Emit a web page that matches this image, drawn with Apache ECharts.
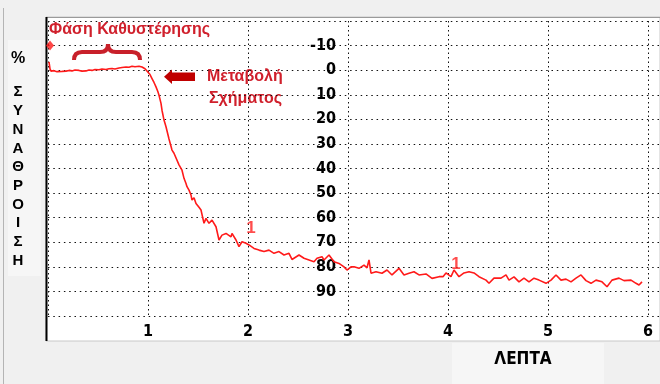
<!DOCTYPE html>
<html>
<head>
<meta charset="utf-8">
<script src="https://cdn.jsdelivr.net/npm/echarts@6/dist/echarts.min.js"></script>
<style>
  html, body { margin: 0; padding: 0; background: #f0f0f0; }
  #main { width: 660px; height: 384px; }
</style>
</head>
<body>
<div id="main"></div>
<script>
// aggregation trace: [minutes, % aggregation]
var trace = [
  [0.01,-3.4],[0.02,-0.5],[0.03,0.4],[0.06,0.2],[0.09,0.6],[0.11,0.1],[0.14,0.5],[0.18,0.4],
  [0.21,0.1],[0.24,0.3],[0.27,-0.1],[0.31,0.1],[0.34,0.4],[0.38,0.3],[0.41,-0.1],[0.44,0.1],
  [0.47,-0.3],[0.51,-0.2],[0.54,-0.5],[0.58,-0.3],[0.61,-0.6],[0.64,-0.7],[0.67,-0.5],[0.71,-0.9],
  [0.74,-1.1],[0.78,-1.3],[0.81,-1.2],[0.84,-1.6],[0.87,-1.4],[0.91,-1.6],[0.94,-1.3],[0.97,-0.6],
  [0.99,0.2],[1.02,1.8],[1.04,3.4],[1.06,5.0],[1.08,6.8],[1.10,8.9],[1.11,10.2],[1.13,13.5],
  [1.14,16.3],[1.16,20.3],[1.18,23.0],[1.21,28.0],[1.24,32.5],[1.26,33.8],[1.28,34.6],[1.31,38.5],
  [1.34,40.7],[1.36,44.0],[1.38,46.1],[1.39,47.4],[1.41,48.8],[1.43,50.8],[1.44,52.8],[1.46,51.9],
  [1.48,54.2],[1.51,55.8],[1.53,56.9],[1.56,62.3],[1.58,60.3],[1.61,62.3],[1.64,61.0],[1.66,61.6],
  [1.68,63.7],[1.71,69.1],[1.74,67.1],[1.78,66.4],[1.79,65.7],[1.83,67.8],[1.84,66.4],[1.88,69.1],
  [1.91,71.8],[1.94,69.8],[1.98,70.4],[2.01,71.1],[2.06,72.5],[2.11,73.2],[2.16,73.8],[2.21,73.2],
  [2.26,74.5],[2.31,73.8],[2.36,75.2],[2.41,74.5],[2.44,77.0],[2.46,76.5],[2.51,75.2],[2.56,76.5],
  [2.61,77.2],[2.66,77.9],[2.69,76.5],[2.74,75.9],[2.76,77.2],[2.81,75.2],[2.86,77.9],[2.91,78.6],
  [2.96,80.0],[2.99,81.3],[3.03,80.0],[3.06,80.0],[3.11,80.6],[3.16,79.3],[3.19,80.4],[3.21,77.2],
  [3.23,82.6],[3.28,82.0],[3.34,82.6],[3.39,81.3],[3.44,83.3],[3.51,80.6],[3.56,83.3],[3.61,82.6],
  [3.66,82.0],[3.71,83.3],[3.78,82.9],[3.84,84.7],[3.91,84.0],[3.95,84.0],[3.98,82.5],[4.03,84.0],
  [4.06,81.3],[4.11,84.0],[4.16,82.5],[4.21,82.0],[4.26,82.5],[4.31,84.0],[4.38,85.4],[4.41,86.7],
  [4.46,84.6],[4.53,84.6],[4.58,83.3],[4.61,85.4],[4.66,84.1],[4.71,86.1],[4.76,84.6],[4.81,86.1],
  [4.86,84.6],[4.91,85.4],[4.98,86.7],[5.03,85.4],[5.08,83.3],[5.13,85.4],[5.18,85.0],[5.23,86.1],
  [5.28,84.6],[5.33,83.3],[5.38,85.6],[5.43,86.7],[5.48,85.4],[5.54,86.1],[5.59,88.1],[5.64,85.4],
  [5.71,84.6],[5.76,85.6],[5.83,85.4],[5.88,86.7],[5.91,87.4],[5.94,86.1]
];
// event markers "1" placed on the trace
var eventMarks = [[2.03, 64.3], [4.08, 78.8]];
// start marker (diamond)
var startMark = [[0.02, -10]];

var xMin = 0, xMax = 6.15, xStep = 1;
var yMin = -20, yMax = 100, yStep = 10;
var yTitle = ['Σ', 'Υ', 'Ν', 'Α', 'Θ', 'Ρ', 'Ο', 'Ι', 'Σ', 'Η'];

var narrow = '"Liberation Sans Narrow", "DejaVu Sans Condensed", sans-serif';
var sans = '"Liberation Sans", Arial, sans-serif';
var noteRed = '#d0202c';
var braceRed = '#c8202a';

var chart = echarts.init(document.getElementById('main'));

// curly brace over the lag phase, built from quadratic pieces
function braceBit(x1, y1, cx, cy, x2, y2) {
  return {
    type: 'bezierCurve', z: 6,
    shape: { x1: x1, y1: y1, cpx1: cx, cpy1: cy, x2: x2, y2: y2 },
    style: { stroke: braceRed, lineWidth: 4, fill: null }
  };
}
function braceLine(x1, x2, y) {
  return {
    type: 'line', z: 6,
    shape: { x1: x1, y1: y, x2: x2, y2: y },
    style: { stroke: braceRed, lineWidth: 4 }
  };
}

var option = {
  backgroundColor: '#f0f0f0',
  animation: false,
  grid: { left: 48, right: -3, top: 21, bottom: 68, containLabel: false, outerBoundsMode: 'none' },
  xAxis: {
    type: 'value',
    min: xMin, max: xMax, interval: xStep,
    axisLine: { show: false },
    axisTick: { show: false },
    axisLabel: {
      margin: 8,
      color: '#000',
      fontFamily: narrow, fontWeight: 'bold', fontSize: 16,
      formatter: function (v) { return (v >= 1 && v <= 6 && v % 1 === 0) ? v : ''; }
    },
    splitLine: { show: true, lineStyle: { color: '#111', width: 1, type: [1.5, 3] } }
  },
  yAxis: {
    type: 'value',
    inverse: true,
    position: 'left',
    offset: -300,
    min: yMin, max: yMax, interval: yStep,
    axisLine: { show: false },
    axisTick: { show: false },
    axisLabel: {
      margin: 12,
      color: '#000',
      fontFamily: narrow, fontWeight: 'bold', fontSize: 16,
      formatter: function (v) { return (v < -10 || v > 90) ? '' : v; }
    },
    splitLine: { show: true, lineStyle: { color: '#111', width: 1, type: [1.5, 3.8] } }
  },
  series: [
    {
      type: 'line',
      data: trace,
      showSymbol: false,
      lineStyle: { color: '#ff1a1a', width: 1.6 },
      z: 5
    },
    {
      type: 'scatter',
      data: eventMarks,
      symbol: 'rect',
      symbolSize: 1,
      itemStyle: { color: 'rgba(0,0,0,0)' },
      label: {
        show: true, position: 'inside', formatter: '1',
        color: '#ff2020', fontFamily: sans, fontWeight: 'bold', fontSize: 17
      },
      z: 6
    },
    {
      type: 'scatter',
      data: startMark,
      symbol: 'diamond',
      symbolSize: [8, 10],
      itemStyle: { color: '#ff1a1a' },
      z: 6
    }
  ],
  graphic: [
    // white panel
    { type: 'rect', z: -10, shape: { x: 46, y: 17, width: 614, height: 324 },
      style: { fill: '#ffffff', stroke: '#c8c8c8', lineWidth: 1 } },
    { type: 'line', z: 1, shape: { x1: 46.5, y1: 17, x2: 46.5, y2: 341 },
      style: { stroke: '#000', lineWidth: 2 } },
    { type: 'line', z: -9, shape: { x1: 46, y1: 17.5, x2: 660, y2: 17.5 },
      style: { stroke: '#9a9a9a', lineWidth: 1 } },
    { type: 'line', z: -9, shape: { x1: 3.5, y1: 8, x2: 3.5, y2: 384 },
      style: { stroke: '#b4b4b4', lineWidth: 1 } },
    // lighter boxes behind the axis titles
    { type: 'rect', z: -10, shape: { x: 8, y: 40, width: 33, height: 236 },
      style: { fill: '#f6f6f6' } },
    { type: 'rect', z: -10, shape: { x: 452, y: 343, width: 152, height: 41 },
      style: { fill: '#f6f6f6' } },
    // axis titles
    { type: 'text', x: 18, y: 59,
      style: { text: '%', fill: '#000', font: 'bold 16px ' + sans, align: 'center', verticalAlign: 'middle' } },
    { type: 'text', x: 18, y: 83,
      style: { text: yTitle.join('\n'), fill: '#000', font: 'bold 15px ' + sans,
               lineHeight: 18.7, align: 'center', verticalAlign: 'top' } },
    { type: 'text', x: 523, y: 360,
      style: { text: 'ΛΕΠΤΑ', fill: '#000', font: 'bold 17px ' + narrow, align: 'center', verticalAlign: 'middle' } },
    // annotations
    { type: 'text', x: 49, y: 30,
      style: { text: 'Φάση Καθυστέρησης', fill: noteRed, font: 'bold 16px ' + sans, verticalAlign: 'middle' } },
    braceBit(74, 60, 74, 52, 82, 52),
    braceLine(82, 100, 52),
    braceBit(100, 52, 108, 52, 108, 44),
    braceBit(108, 44, 108, 52, 116, 52),
    braceLine(116, 132, 52),
    braceBit(132, 52, 140, 52, 140, 60),
    { type: 'polygon', z: 6,
      shape: { points: [[164, 76.7], [172, 69.5], [172, 72.5], [195, 72.5], [195, 81], [172, 81], [172, 84]] },
      style: { fill: '#c00000' } },
    { type: 'text', x: 207, y: 77,
      style: { text: 'Μεταβολή', fill: noteRed, font: 'bold 16px ' + sans, verticalAlign: 'middle' } },
    { type: 'text', x: 209, y: 99,
      style: { text: 'Σχήματος', fill: noteRed, font: 'bold 16px ' + sans, verticalAlign: 'middle' } }
  ]
};

chart.setOption(option);
</script>
</body>
</html>
